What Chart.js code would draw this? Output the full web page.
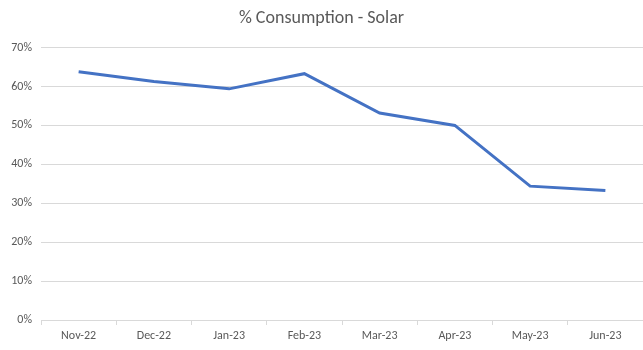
<!DOCTYPE html>
<html>
<head>
<meta charset="utf-8">
<script src="https://cdn.jsdelivr.net/npm/chart.js@4"></script>
<style>
  html, body { margin: 0; padding: 0; background: #fff; }
  #wrap { width: 643px; height: 350px; }
</style>
</head>
<body>
<div id="wrap"><canvas id="chart"></canvas></div>
<script>
// months shown on the x axis
const months = ['Nov-22', 'Dec-22', 'Jan-23', 'Feb-23', 'Mar-23', 'Apr-23', 'May-23', 'Jun-23'];
// share of consumption covered by solar, in %
const solarShare = [63.8, 61.3, 59.4, 63.3, 53.2, 50.0, 34.4, 33.3];
const yMin = 0;
const yMax = 70;
const yStep = 10;

const textColor = '#595959';
const gridColor = '#d9d9d9';
const font = "Carlito, Calibri, 'Open Sans', 'Liberation Sans', sans-serif";

new Chart(document.getElementById('chart'), {
    type: 'line',
    data: {
        labels: months,
        datasets: [{
            label: '% Consumption - Solar',
            data: solarShare,
            borderColor: '#4472c4',
            borderWidth: 3,
            pointRadius: 0,
            tension: 0,
            fill: false
        }]
    },
    options: {
        responsive: true,
        maintainAspectRatio: false,
        animation: false,
        layout: { padding: { left: 0, right: 0, top: 8, bottom: 0 } },
        plugins: {
            legend: { display: false },
            tooltip: { enabled: false },
            title: {
                display: true,
                text: '% Consumption - Solar',
                color: textColor,
                font: { family: font, size: 18, weight: 'normal' },
                padding: { top: 0, bottom: 18 }
            }
        },
        scales: {
            x: {
                offset: true,
                grid: {
                    offset: true,
                    drawOnChartArea: false,
                    drawTicks: true,
                    tickLength: 5,
                    color: gridColor
                },
                border: { color: gridColor },
                ticks: {
                    color: textColor,
                    font: { family: font, size: 12 },
                    padding: 4,
                    maxRotation: 0
                },
                afterFit: s => { s.height = 30; }
            },
            y: {
                min: yMin,
                max: yMax,
                grid: { color: gridColor, drawTicks: false },
                border: { display: false },
                ticks: {
                    stepSize: yStep,
                    color: textColor,
                    font: { family: font, size: 12 },
                    padding: 9,
                    callback: v => v + '%'
                },
                afterFit: s => { s.width = 41; }
            }
        }
    }
});
</script>
</body>
</html>
